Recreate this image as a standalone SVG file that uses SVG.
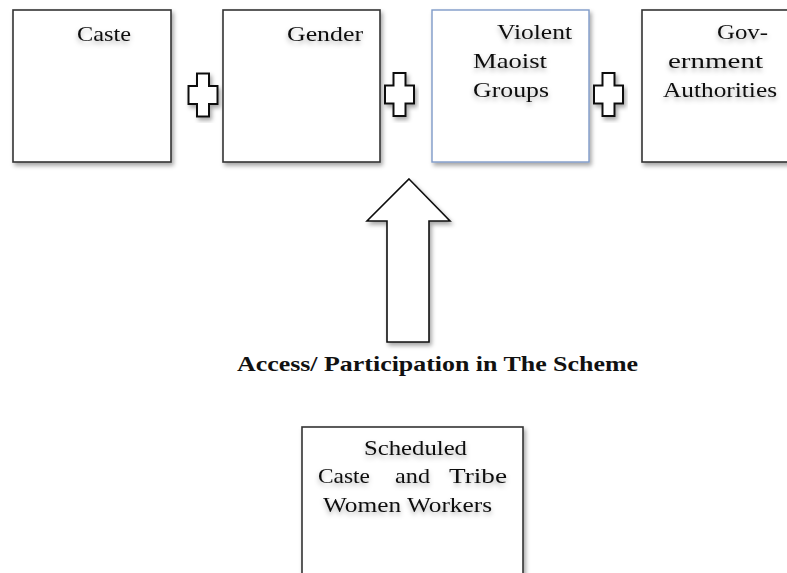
<svg xmlns="http://www.w3.org/2000/svg" width="787" height="573" viewBox="0 0 787 573">
  <defs>
    <filter id="boxShadow" x="-10%" y="-10%" width="125%" height="125%">
      <feDropShadow dx="2" dy="3" stdDeviation="2" flood-color="#000" flood-opacity="0.35"/>
    </filter>
    <filter id="textShadow" x="-10%" y="-30%" width="120%" height="170%">
      <feDropShadow dx="0" dy="3" stdDeviation="2.5" flood-color="#000" flood-opacity="0.3"/>
    </filter>
    <path id="plus" d="M-6,-21.5 H6 V-9 H14.5 V9 H6 V21.5 H-6 V9 H-14.5 V-9 H-6 Z"/>
  </defs>
  <style>
    .box { fill: #fff; stroke: #333; stroke-width: 1.6; filter: url(#boxShadow); }
    .box-blue { fill: #fff; stroke: #7f9bc8; stroke-width: 1.4; filter: url(#boxShadow); }
    .lbl { font-family: "Liberation Serif", "DejaVu Serif", serif; font-size: 22px; fill: #111; filter: url(#textShadow); }
    .plus { fill: #fff; stroke: #111; stroke-width: 2; filter: url(#boxShadow); }
    .arrow { fill: #fff; stroke: #111; stroke-width: 1.6; filter: url(#boxShadow); }
    .caption { font-family: "Liberation Serif", "Times New Roman", serif; font-size: 22px; font-weight: bold; fill: #111; }
  </style>

  <rect width="787" height="573" fill="#fff"/>

  <g id="node-caste">
    <rect class="box" x="13" y="10" width="158" height="152"/>
    <text class="lbl" x="77" y="41" textLength="54" lengthAdjust="spacingAndGlyphs">Caste</text>
  </g>

  <g id="node-gender">
    <rect class="box" x="223" y="10" width="157" height="152"/>
    <text class="lbl" x="287" y="41" textLength="76" lengthAdjust="spacingAndGlyphs">Gender</text>
  </g>

  <g id="node-maoist">
    <rect class="box-blue" x="432" y="10" width="157" height="152"/>
    <text class="lbl" x="497" y="39" textLength="75" lengthAdjust="spacingAndGlyphs">Violent</text>
    <text class="lbl" x="473" y="68" textLength="74" lengthAdjust="spacingAndGlyphs">Maoist</text>
    <text class="lbl" x="473" y="97" textLength="76" lengthAdjust="spacingAndGlyphs">Groups</text>
  </g>

  <g id="node-government">
    <rect class="box" x="642" y="10" width="160" height="152"/>
    <text class="lbl" x="717" y="39" textLength="51" lengthAdjust="spacingAndGlyphs">Gov-</text>
    <text class="lbl" x="668" y="68" textLength="95" lengthAdjust="spacingAndGlyphs">ernment</text>
    <text class="lbl" x="663" y="97" textLength="114" lengthAdjust="spacingAndGlyphs">Authorities</text>
  </g>

  <g id="node-workers">
    <rect class="box" x="302" y="427" width="221" height="160"/>
    <text class="lbl" x="364" y="455" textLength="103" lengthAdjust="spacingAndGlyphs">Scheduled</text>
    <text class="lbl" y="483"><tspan x="318" textLength="52" lengthAdjust="spacingAndGlyphs">Caste</tspan> <tspan x="395" textLength="35" lengthAdjust="spacingAndGlyphs">and</tspan> <tspan x="449" textLength="58" lengthAdjust="spacingAndGlyphs">Tribe</tspan></text>
    <text class="lbl" x="323" y="512" textLength="169" lengthAdjust="spacingAndGlyphs">Women Workers</text>
  </g>

  <g id="connectors">
    <use class="plus" href="#plus" x="203" y="95"/>
    <use class="plus" href="#plus" x="399.5" y="94.5"/>
    <use class="plus" href="#plus" x="608.5" y="94.5"/>
    <path class="arrow" d="M409,179 L450,221 H429 V342 H387 V221 H367 Z"/>
    <text class="caption" x="237" y="371" textLength="401" lengthAdjust="spacingAndGlyphs">Access/ Participation in The Scheme</text>
  </g>
</svg>
